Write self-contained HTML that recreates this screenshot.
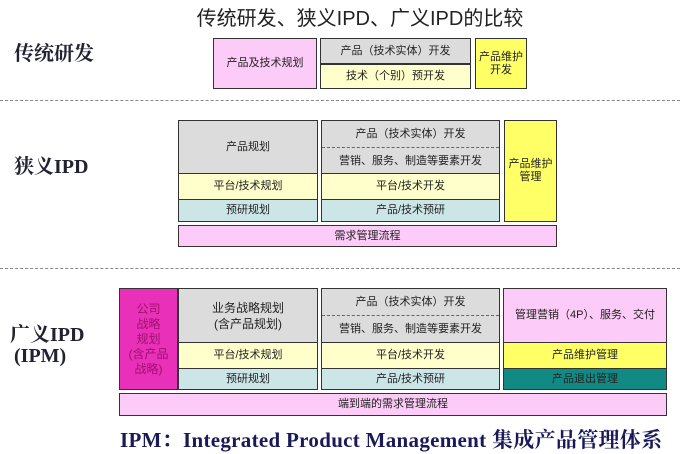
<!DOCTYPE html>
<html><head><meta charset="utf-8"><style>
body{margin:0;width:680px;height:451px;background:#fff;position:relative;overflow:hidden;font-family:"Liberation Sans","Noto Sans CJK SC",sans-serif}
.b{position:absolute;box-sizing:border-box;border:1px solid #333;display:flex;align-items:center;justify-content:center;text-align:center;font-size:11px;color:#222;line-height:13px}
.g{background:#dcdcdc}.y{background:#ffffcc}.c{background:#cce6e8}.p{background:#fccbf7}.Y{background:#ffff66}.m{background:#e830b8}.t{background:#108a82}
.l{position:absolute;font-family:"Liberation Serif","Noto Serif CJK SC",serif;font-weight:bold;font-size:20px;color:#223}
.d{position:absolute;left:0;width:680px;border-top:1px dashed #888}
</style></head><body>
<div style="position:absolute;left:0;width:720px;top:2px;text-align:center;font-size:20px;color:#222">传统研发、狭义IPD、广义IPD的比较</div>
<div class="l" style="left:14px;top:37px">传统研发</div>
<div class="b p" style="left:213px;top:38px;width:104px;height:51px">产品及技术规划</div>
<div class="b g" style="left:320px;top:38px;width:151px;height:26px">产品（技术实体）开发</div>
<div class="b y" style="left:320px;top:64px;width:151px;height:25px">技术（个别）预开发</div>
<div class="b Y" style="left:475px;top:38px;width:52px;height:51px">产品维护<br>开发</div>
<div class="d" style="top:100px"></div>
<div class="l" style="left:14px;top:150px">狭义IPD</div>
<div class="b g" style="left:178px;top:120px;width:140px;height:54px">产品规划</div>
<div class="b y" style="left:178px;top:173px;width:140px;height:27px">平台/技术规划</div>
<div class="b c" style="left:178px;top:199px;width:140px;height:23px">预研规划</div>
<div class="b g" style="left:321px;top:120px;width:179px;height:54px;flex-direction:column"><div style="height:26px;line-height:26px;width:100%;border-bottom:1px dashed #666">产品（技术实体）开发</div><div style="height:26px;line-height:26px">营销、服务、制造等要素开发</div></div>
<div class="b y" style="left:321px;top:173px;width:179px;height:27px">平台/技术开发</div>
<div class="b c" style="left:321px;top:199px;width:179px;height:23px">产品/技术预研</div>
<div class="b Y" style="left:504px;top:120px;width:53px;height:102px">产品维护<br>管理</div>
<div class="b p" style="left:178px;top:225px;width:379px;height:22px">需求管理流程</div>
<div class="d" style="top:268px"></div>
<div class="l" style="left:10px;top:318px">广义IPD</div>
<div class="l" style="left:14px;top:345px">(IPM)</div>
<div class="b m" style="left:119px;top:288px;width:59px;height:102px;color:#a01070;font-size:12px;line-height:15px">公司<br>战略<br>规划<br>(含产品<br>战略)</div>
<div class="b g" style="left:178px;top:288px;width:140px;height:55px;font-size:12px;line-height:16px">业务战略规划<br>(含产品规划)</div>
<div class="b y" style="left:178px;top:342px;width:140px;height:27px">平台/技术规划</div>
<div class="b c" style="left:178px;top:368px;width:140px;height:22px">预研规划</div>
<div class="b g" style="left:321px;top:288px;width:179px;height:55px;flex-direction:column"><div style="height:26px;line-height:26px;width:100%;border-bottom:1px dashed #666">产品（技术实体）开发</div><div style="height:27px;line-height:27px">营销、服务、制造等要素开发</div></div>
<div class="b y" style="left:321px;top:342px;width:179px;height:27px">平台/技术开发</div>
<div class="b c" style="left:321px;top:368px;width:179px;height:22px">产品/技术预研</div>
<div class="b p" style="left:503px;top:288px;width:164px;height:55px;white-space:nowrap">管理营销（4P）、服务、交付</div>
<div class="b Y" style="left:503px;top:342px;width:164px;height:27px">产品维护管理</div>
<div class="b t" style="left:503px;top:368px;width:164px;height:22px">产品退出管理</div>
<div class="b p" style="left:119px;top:393px;width:548px;height:23px">端到端的需求管理流程</div>
<div class="l" style="left:120px;top:424px;font-size:21px;letter-spacing:0.3px;white-space:nowrap;color:#1a1a5a">IPM：Integrated Product Management 集成产品管理体系</div>
</body></html>
